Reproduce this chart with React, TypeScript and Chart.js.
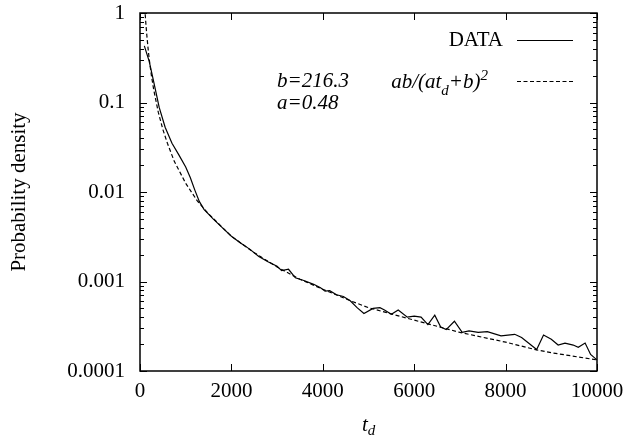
import React, { useEffect, useRef } from "react";
import { Chart, registerables } from "chart.js";

Chart.register(...registerables);

// ---- data ----
const dataT = [95, 200, 280, 350, 420, 550, 700, 850, 1000, 1100, 1200, 1300, 1400, 1600, 1800, 2000, 2200, 2400, 2600, 2800, 3000, 3100, 3250, 3400, 3600, 3800, 3950, 4050, 4150, 4300, 4450, 4600, 4750, 4900, 5100, 5250, 5350, 5500, 5650, 5850, 6000, 6150, 6300, 6450, 6580, 6700, 6880, 7050, 7200, 7400, 7600, 7900, 8200, 8350, 8680, 8830, 9000, 9150, 9300, 9480, 9590, 9740, 9860, 10000];
const dataP = [0.43, 0.29, 0.19, 0.13, 0.088, 0.053, 0.035, 0.026, 0.019, 0.0145, 0.0105, 0.0078, 0.0064, 0.005, 0.004, 0.0032, 0.0027, 0.0023, 0.0019, 0.00166, 0.00148, 0.00132, 0.00137, 0.0011, 0.00102, 0.00093, 0.00085, 0.00078, 0.00079, 0.00071, 0.00068, 0.00061, 0.00051, 0.00044, 0.0005, 0.00051, 0.00048, 0.00043, 0.00048, 0.0004, 0.00041, 0.0004, 0.00033, 0.00042, 0.00031, 0.00029, 0.00036, 0.00027, 0.00028, 0.00027, 0.000275, 0.000247, 0.000257, 0.000237, 0.000174, 0.000252, 0.000226, 0.000195, 0.000205, 0.000195, 0.000184, 0.000205, 0.000153, 0.000133];

const fitT = [88, 100, 112, 130, 150, 175, 200, 250, 300, 400, 500, 600, 750, 1000, 1250, 1500, 2000, 2500, 3000, 3500, 4000, 4600, 5000, 6000, 7000, 8000, 8680, 9000, 10000];
const fitP = [1.6, 1.25, 1.0, 0.74, 0.56, 0.41, 0.31, 0.2, 0.139, 0.078, 0.05, 0.035, 0.022, 0.0125, 0.008, 0.0057, 0.0032, 0.0021, 0.00145, 0.00106, 0.00082, 0.00061, 0.00051, 0.00037, 0.00027, 0.00021, 0.000172, 0.00016, 0.000133];

const xTickValues = [0, 2000, 4000, 6000, 8000, 10000];
const yTickValues = [0.0001, 0.001, 0.01, 0.1, 1];
const yTickLabels = ["0.0001", "0.001", "0.01", "0.1", "1"];

const legendData = "DATA";
const paramB = "b=216.3";
const paramA = "a=0.48";
const yTitle = "Probability density";

const FONT = "'Liberation Serif', 'Times New Roman', serif";

const frame = {
  id: "frame",
  afterDraw(chart: any) {
    const { ctx, chartArea, scales } = chart;
    const { left, right, top, bottom } = chartArea;
    const x = scales.x;
    const y = scales.y;
    ctx.save();
    ctx.strokeStyle = "#000";
    ctx.lineWidth = 1;
    ctx.beginPath();
    for (const v of xTickValues) {
      const px = Math.round(x.getPixelForValue(v)) + 0.5;
      ctx.moveTo(px, bottom);
      ctx.lineTo(px, bottom - 7);
      ctx.moveTo(px, top);
      ctx.lineTo(px, top + 7);
    }
    for (let i = 0; i < yTickValues.length; i++) {
      const base = yTickValues[i];
      const py = Math.round(y.getPixelForValue(base)) + 0.5;
      ctx.moveTo(left, py);
      ctx.lineTo(left + 7, py);
      ctx.moveTo(right, py);
      ctx.lineTo(right - 7, py);
      if (i < yTickValues.length - 1) {
        for (let m = 2; m <= 9; m++) {
          const pm = Math.round(y.getPixelForValue(base * m)) + 0.5;
          ctx.moveTo(left, pm);
          ctx.lineTo(left + 4, pm);
          ctx.moveTo(right, pm);
          ctx.lineTo(right - 4, pm);
        }
      }
    }
    ctx.stroke();
    // legend samples
    ctx.lineWidth = 1.2;
    ctx.beginPath();
    ctx.moveTo(517, 40.5);
    ctx.lineTo(573, 40.5);
    ctx.stroke();
    ctx.setLineDash([4, 2.5]);
    ctx.beginPath();
    ctx.moveTo(517, 81.5);
    ctx.lineTo(573, 81.5);
    ctx.stroke();
    ctx.setLineDash([]);
    // box
    ctx.lineWidth = 1.5;
    ctx.strokeRect(left, top, right - left, bottom - top);
    ctx.restore();
  },
};

export default function App() {
  const ref = useRef<HTMLCanvasElement>(null);
  useEffect(() => {
    if (!ref.current) return;
    const chart = new Chart(ref.current, {
      type: "line",
      data: {
        datasets: [
          {
            label: "DATA",
            data: dataT.map((t, i) => ({ x: t, y: dataP[i] })),
            borderColor: "#000",
            borderWidth: 1.2,
            pointRadius: 0,
            tension: 0,
            fill: false,
          },
          {
            label: "fit",
            data: fitT.map((t, i) => ({ x: t, y: fitP[i] })),
            borderColor: "#000",
            borderWidth: 1.2,
            borderDash: [4, 2.5],
            pointRadius: 0,
            tension: 0,
            fill: false,
          },
        ],
      },
      options: {
        responsive: false,
        animation: false,
        layout: { padding: { top: 13, right: 31, left: 0, bottom: 0 } },
        plugins: { legend: { display: false }, tooltip: { enabled: false } },
        scales: {
          x: {
            type: "linear",
            min: 0,
            max: 10000,
            afterBuildTicks: (s: any) => {
              s.ticks = xTickValues.map((v) => ({ value: v }));
            },
            afterFit: (s: any) => {
              s.height = 68;
              s.paddingLeft = 0;
              s.paddingRight = 0;
            },
            grid: { display: false, drawTicks: false },
            border: { display: false },
            ticks: {
              autoSkip: false,
              maxRotation: 0,
              padding: 8,
              color: "#000",
              font: { family: FONT, size: 21 },
              callback: (v: any) => String(v),
            },
          },
          y: {
            type: "logarithmic",
            min: 0.0001,
            max: 1,
            afterBuildTicks: (s: any) => {
              s.ticks = yTickValues.map((v) => ({ value: v }));
            },
            afterFit: (s: any) => {
              s.width = 140;
              s.paddingTop = 0;
              s.paddingBottom = 0;
            },
            grid: { display: false, drawTicks: false },
            border: { display: false },
            title: {
              display: true,
              text: yTitle,
              color: "#000",
              font: { family: FONT, size: 21 },
              padding: { top: 7, bottom: 0 },
            },
            ticks: {
              autoSkip: false,
              padding: 15,
              color: "#000",
              font: { family: FONT, size: 21 },
              callback: (v: any, i: number) => yTickLabels[i],
            },
          },
        },
      },
      plugins: [frame],
    });
    return () => chart.destroy();
  }, []);

  const base: React.CSSProperties = {
    position: "absolute",
    fontFamily: FONT,
    fontSize: "21px",
    lineHeight: "21px",
    whiteSpace: "nowrap",
    color: "#000",
  };
  const small = (dy: number): React.CSSProperties => ({
    fontSize: "15px",
    position: "relative",
    top: dy + "px",
  });

  return (
    <div style={{ position: "absolute", left: 0, top: 0, width: 628, height: 439, background: "#fff" }}>
      <canvas ref={ref} width={628} height={439} style={{ display: "block" }} />
      <div style={{ ...base, right: 125, top: 29 }}>{legendData}</div>
      <div style={{ ...base, right: 140, top: 70.7, fontStyle: "italic" }}>
        ab/(at<span style={small(7)}>d</span>+b)<span style={small(-8)}>2</span>
      </div>
      <div style={{ ...base, left: 277, top: 70, fontStyle: "italic" }}>{paramB}</div>
      <div style={{ ...base, left: 277, top: 92.4, fontStyle: "italic" }}>{paramA}</div>
      <div style={{ ...base, left: 362, top: 414, fontStyle: "italic" }}>
        t<span style={small(4)}>d</span>
      </div>
    </div>
  );
}
